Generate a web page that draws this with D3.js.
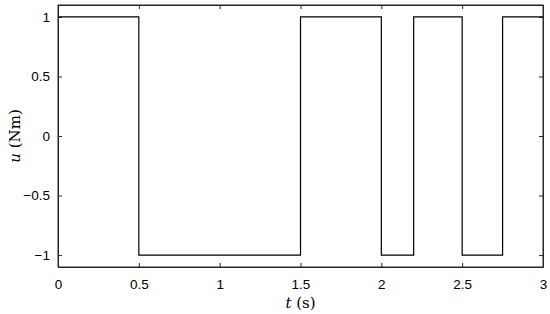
<!DOCTYPE html>
<html>
<head>
<meta charset="utf-8">
<script src="https://cdn.jsdelivr.net/npm/d3@7"></script>
<style>
  html, body { margin: 0; padding: 0; background: #fff; }
  svg { display: block; }
  .tick text { font-family: "Liberation Sans", Arial, sans-serif; font-size: 13.5px; fill: #000; }
  .lbl { font-family: "DejaVu Serif", "Liberation Serif", serif; font-size: 15px; fill: #000; }
</style>
</head>
<body>
<svg width="550" height="314"></svg>
<script>
// switching instants (s) and the control value held from each one
const switchTimes = [0, 0.5, 1.5, 2.0, 2.2, 2.5, 2.75, 3];
const uValues = [1, -1, 1, -1, 1, -1, 1, 1];
const xTicks = [0, 0.5, 1, 1.5, 2, 2.5, 3];
const yTicks = [-1, -0.5, 0, 0.5, 1];

const svg = d3.select('svg');
const plotLeft = 58, plotRight = 543, plotTop = 5, plotBottom = 267;

const x = d3.scaleLinear().domain([0, 3]).range([plotLeft, plotRight]);
const y = d3.scaleLinear().domain([-1.1, 1.1]).range([plotBottom, plotTop]);

const fmt = d => d < 0 ? '\u2212' + Math.abs(d) : String(d);

// bottom + top axes
svg.append('g')
  .attr('transform', `translate(0,${plotBottom})`)
  .call(d3.axisBottom(x).tickValues(xTicks).tickFormat(fmt).tickSizeInner(-4).tickSizeOuter(0).tickPadding(12));
svg.append('g')
  .attr('transform', `translate(0,${plotTop})`)
  .call(d3.axisTop(x).tickValues(xTicks).tickFormat('').tickSizeInner(-4).tickSizeOuter(0));

// left + right axes
svg.append('g')
  .attr('transform', `translate(${plotLeft},0)`)
  .call(d3.axisLeft(y).tickValues(yTicks).tickFormat(fmt).tickSizeInner(-4).tickSizeOuter(0).tickPadding(8));
svg.append('g')
  .attr('transform', `translate(${plotRight},0)`)
  .call(d3.axisRight(y).tickValues(yTicks).tickFormat('').tickSizeInner(-4).tickSizeOuter(0));

svg.selectAll('.domain, .tick line').attr('stroke', '#262626').attr('stroke-width', 1);

// box
svg.append('rect')
  .attr('x', plotLeft).attr('y', plotTop)
  .attr('width', plotRight - plotLeft).attr('height', plotBottom - plotTop)
  .attr('fill', 'none').attr('stroke', '#262626').attr('stroke-width', 1);

// step signal
const pts = switchTimes.map((t, i) => ({ t, u: uValues[i] }));
const line = d3.line()
  .x(d => x(d.t))
  .y(d => y(d.u))
  .curve(d3.curveStepAfter);

svg.append('path')
  .datum(pts)
  .attr('d', line)
  .attr('fill', 'none')
  .attr('stroke', '#000')
  .attr('stroke-width', 1.2);

// axis labels
const xl = svg.append('text').attr('class', 'lbl')
  .attr('x', x(1.5)).attr('y', 308).attr('text-anchor', 'middle');
xl.append('tspan').attr('font-style', 'italic').text('t');
xl.append('tspan').text(' (s)');

const yl = svg.append('text').attr('class', 'lbl')
  .attr('transform', `translate(20,${y(0)}) rotate(-90)`)
  .attr('text-anchor', 'middle');
yl.append('tspan').attr('font-style', 'italic').text('u');
yl.append('tspan').text(' (Nm)');
</script>
</body>
</html>
